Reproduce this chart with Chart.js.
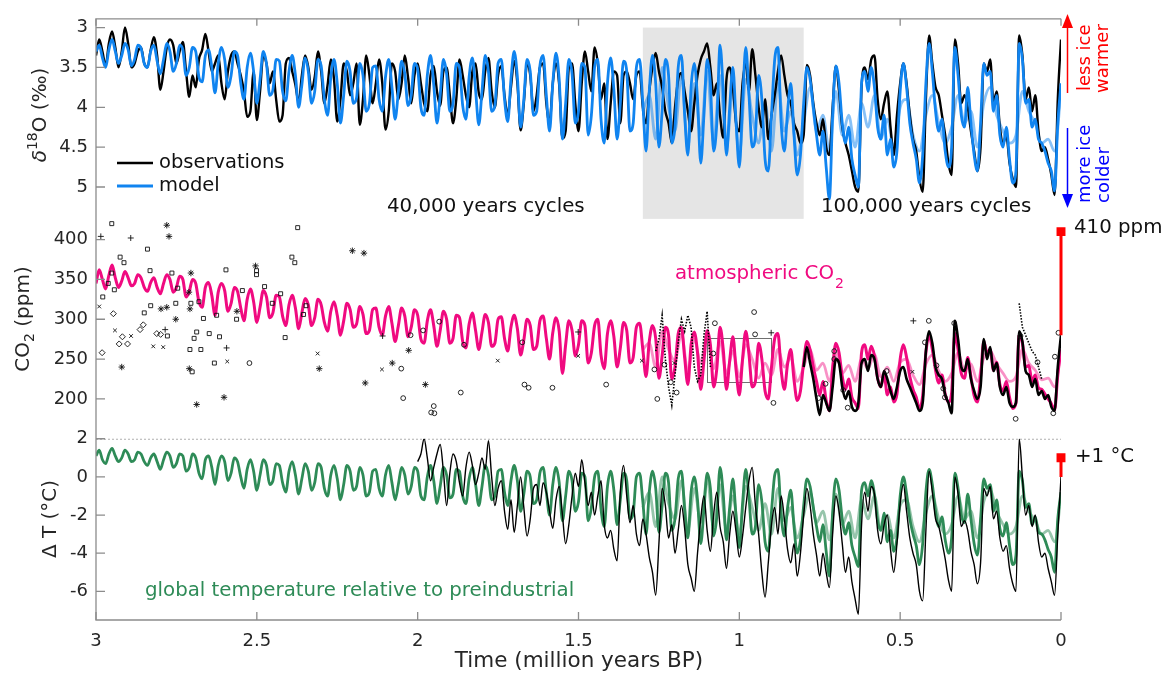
<!DOCTYPE html>
<html>
<head>
<meta charset="utf-8">
<script src="https://cdn.jsdelivr.net/npm/chart.js@4.4.1/dist/chart.umd.min.js"></script>
<style>
html,body{margin:0;padding:0;background:#fff;}
#wrap{width:1164px;height:673px;}
</style>
</head>
<body>
<div id="wrap"><canvas id="c" width="1164" height="673"></canvas></div>
<script>
// ---------------- DATA ----------------
const ageMa = [
3,2.99,2.98,2.97,2.96,2.95,2.94,2.93,2.92,2.91,
2.9,2.89,2.88,2.87,2.86,2.85,2.84,2.83,2.82,2.81,
2.8,2.79,2.78,2.77,2.76,2.75,2.74,2.73,2.72,2.71,
2.7,2.69,2.68,2.67,2.66,2.65,2.64,2.63,2.62,2.61,
2.6,2.59,2.58,2.57,2.56,2.55,2.54,2.53,2.52,2.51,
2.5,2.49,2.48,2.47,2.46,2.45,2.44,2.43,2.42,2.41,
2.4,2.39,2.38,2.37,2.36,2.35,2.34,2.33,2.32,2.31,
2.3,2.29,2.28,2.27,2.26,2.25,2.24,2.23,2.22,2.21,
2.2,2.19,2.18,2.17,2.16,2.15,2.14,2.13,2.12,2.11,
2.1,2.09,2.08,2.07,2.06,2.05,2.04,2.03,2.02,2.01,
2,1.99,1.98,1.97,1.96,1.95,1.94,1.93,1.92,1.91,
1.9,1.89,1.88,1.87,1.86,1.85,1.84,1.83,1.82,1.81,
1.8,1.79,1.78,1.77,1.76,1.75,1.74,1.73,1.72,1.71,
1.7,1.69,1.68,1.67,1.66,1.65,1.64,1.63,1.62,1.61,
1.6,1.59,1.58,1.57,1.56,1.55,1.54,1.53,1.52,1.51,
1.5,1.49,1.48,1.47,1.46,1.45,1.44,1.43,1.42,1.41,
1.4,1.39,1.38,1.37,1.36,1.35,1.34,1.33,1.32,1.31,
1.3,1.29,1.28,1.27,1.26,1.25,1.24,1.23,1.22,1.21,
1.2,1.19,1.18,1.17,1.16,1.15,1.14,1.13,1.12,1.11,
1.1,1.09,1.08,1.07,1.06,1.05,1.04,1.03,1.02,1.01,
1,0.99,0.98,0.97,0.96,0.95,0.94,0.93,0.92,0.91,
0.9,0.89,0.88,0.87,0.86,0.85,0.84,0.83,0.82,0.81,
0.8,0.79,0.78,0.77,0.76,0.75,0.74,0.73,0.72,0.71,
0.7,0.69,0.68,0.67,0.66,0.65,0.64,0.63,0.62,0.61,
0.6,0.59,0.58,0.57,0.56,0.55,0.54,0.53,0.52,0.51,
0.5,0.49,0.48,0.47,0.46,0.45,0.44,0.43,0.42,0.41,
0.4,0.39,0.38,0.37,0.36,0.35,0.34,0.33,0.32,0.31,
0.3,0.29,0.28,0.27,0.26,0.25,0.24,0.23,0.22,0.21,
0.2,0.19,0.18,0.17,0.16,0.15,0.14,0.13,0.12,0.11,
0.1,0.09,0.08,0.07,0.06,0.05,0.04,0.03,0.02,0.01,
0];

// delta18O (permil), model main member, 3.00 -> 0.00 Ma
const d18oModel = [
3.30,3.22,3.38,3.50,3.28,3.15,3.30,3.45,3.35,3.20,
3.28,3.48,3.40,3.22,3.26,3.45,3.50,3.30,3.22,3.42,
3.58,3.40,3.20,3.30,3.55,3.45,3.22,3.28,3.60,3.50,
3.25,3.30,3.62,3.68,3.35,3.28,3.50,3.82,3.45,3.25,
3.40,3.75,3.60,3.30,3.35,3.70,3.90,3.50,3.32,3.55,
3.95,3.65,3.30,3.45,3.85,3.78,3.40,3.42,3.80,3.92,
3.55,3.35,3.60,4.00,3.72,3.38,3.55,3.95,3.80,3.40,
3.48,3.90,4.10,3.62,3.40,3.70,4.20,3.85,3.42,3.55,
3.95,3.88,3.45,3.60,4.05,3.95,3.50,3.48,3.90,4.05,
3.62,3.40,3.75,4.15,3.80,3.42,3.58,3.98,3.85,3.45,
3.52,4.00,4.10,3.60,3.35,3.72,4.20,3.85,3.40,3.58,
4.05,3.95,3.45,3.50,3.98,4.15,3.62,3.38,3.78,4.22,
3.80,3.35,3.55,4.05,3.98,3.45,3.40,3.90,4.18,3.65,
3.30,3.62,4.25,3.90,3.40,3.55,4.10,4.05,3.48,3.35,
3.85,4.30,3.70,3.32,3.65,4.40,3.95,3.40,3.58,4.20,
4.05,3.45,3.50,4.35,4.10,3.50,3.40,4.15,4.45,3.70,
3.38,3.78,4.40,3.95,3.42,3.55,4.30,4.20,3.50,3.40,
3.95,4.55,3.80,3.35,3.70,4.50,4.05,3.40,3.60,4.45,
4.25,3.50,3.35,4.10,4.60,3.75,3.45,3.90,4.70,4.10,
3.40,3.70,4.55,4.20,3.22,3.80,4.60,4.00,3.50,4.20,
4.75,3.95,3.25,3.85,4.50,4.35,3.60,3.90,4.65,4.80,
4.10,3.40,3.25,4.20,4.55,4.05,3.70,4.35,4.85,4.60,
3.95,3.50,3.65,4.00,4.35,4.60,4.30,4.75,5.15,4.10,
3.48,3.70,4.20,4.45,4.25,4.65,4.85,5.00,3.70,3.55,
3.80,3.50,3.75,4.25,4.40,4.10,4.60,4.40,4.75,4.55,
3.80,3.45,3.75,4.20,4.45,4.65,4.95,4.60,3.70,3.20,
3.55,4.05,4.30,4.15,4.55,4.75,4.50,3.25,3.60,4.10,
4.25,3.75,4.20,4.60,4.80,4.20,3.45,3.60,3.55,4.05,
3.85,4.35,4.50,4.25,4.65,4.95,4.80,3.20,3.40,3.95,
3.90,4.25,4.15,4.40,4.45,4.55,4.70,4.80,5.05,4.20,3.70];

// delta18O observations (benthic stack), 3.00 -> 0.00 Ma
const d18oObs = [
3.35,3.15,3.30,3.48,3.20,3.05,3.25,3.50,3.30,3.00,
3.20,3.50,3.45,3.30,3.25,3.45,3.50,3.28,3.12,3.35,
3.78,3.55,3.25,3.15,3.22,3.45,3.30,3.18,3.55,3.87,
3.60,3.75,3.40,3.28,3.08,3.30,3.55,3.45,3.35,3.70,
3.90,3.55,3.35,3.30,3.45,3.60,3.80,4.12,4.05,3.55,
4.16,3.80,3.35,3.45,3.70,3.55,3.90,4.18,4.10,3.45,
3.38,3.55,3.72,3.94,3.60,3.35,3.50,3.78,3.62,3.30,
3.55,3.95,3.72,3.40,3.65,4.18,3.90,3.45,3.55,3.85,
3.70,3.45,4.22,3.90,3.35,3.60,3.95,3.70,3.40,3.70,
4.28,4.05,3.45,3.55,3.90,3.70,3.35,3.62,3.95,3.60,
3.45,3.70,3.95,4.05,3.60,3.48,3.80,3.98,3.55,3.50,
3.85,4.20,3.90,3.40,3.60,3.85,4.00,3.55,3.45,3.82,
3.90,3.55,3.38,3.80,4.00,3.60,3.48,3.85,4.10,3.75,
3.42,3.70,4.29,3.95,3.45,3.60,4.05,3.85,3.50,3.45,
3.95,4.20,3.70,3.45,3.72,4.39,4.30,3.50,3.45,3.95,
4.30,3.70,3.30,3.55,3.80,3.25,3.45,3.90,3.70,4.40,
3.95,3.55,3.60,4.20,3.60,3.55,3.70,3.90,3.60,3.55,
4.00,4.20,3.80,3.50,3.32,3.55,3.75,4.05,4.20,4.45,
4.00,3.65,3.57,3.80,4.05,4.30,3.95,3.60,3.40,3.30,
3.20,3.50,3.85,3.70,4.10,4.38,3.65,3.50,3.75,4.20,
4.30,3.70,3.45,3.80,3.27,3.60,4.00,4.25,3.90,4.40,
4.10,3.85,3.55,3.35,3.60,3.85,3.95,4.20,4.30,4.45,
4.35,3.47,3.60,3.95,4.20,4.35,4.15,4.50,4.60,4.00,
3.48,3.80,4.25,4.45,4.60,4.80,5.00,5.06,3.75,3.50,
3.65,3.40,3.35,3.90,4.15,3.95,3.80,4.25,4.60,4.10,
3.70,3.45,3.70,4.10,4.40,4.55,4.90,5.06,3.90,3.10,
3.45,3.75,3.85,4.10,4.35,4.70,4.85,3.15,3.45,3.95,
3.85,4.00,4.30,4.55,4.80,4.50,3.45,3.55,3.40,3.95,
3.80,4.25,4.45,4.35,4.70,4.90,5.00,3.10,3.35,3.90,
3.75,4.05,3.85,4.30,4.55,4.50,4.65,4.85,5.10,3.90,3.15];

// other ensemble members (lighter lines), 1.30 -> 0.00 Ma
const ageAlt = [1.3,1.28,1.26,1.24,1.22,1.2,1.18,1.16,1.14,1.12,1.1,1.08,1.06,1.04,1.02,1,0.98,0.96,0.94,0.92,
0.9,0.88,0.86,0.84,0.82,0.8,0.78,0.76,0.74,0.72,0.7,0.68,0.66,0.64,0.62,0.6,0.58,0.56,0.54,0.52,
0.5,0.48,0.46,0.44,0.42,0.4,0.38,0.36,0.34,0.32,0.3,0.28,0.26,0.24,0.22,0.2,0.18,0.16,0.14,0.12,
0.1,0.08,0.06,0.04,0.02,0];
const d18oAlt = [4.05,3.85,4.40,3.50,4.00,4.30,3.60,4.50,3.70,4.35,3.55,4.45,3.60,4.50,3.80,4.60,3.65,4.10,4.45,3.95,
4.55,3.70,4.30,4.05,4.60,4.20,3.75,4.30,4.10,4.55,3.80,4.35,4.10,4.50,3.95,4.25,3.85,4.40,4.15,4.50,
4.00,3.90,4.35,4.55,4.10,3.85,4.20,4.45,4.25,3.85,4.20,4.05,4.50,3.95,3.75,4.10,4.30,4.45,4.35,3.80,
4.05,4.20,4.45,4.40,4.55,3.80];
const co2Alt = [262,270,240,285,262,248,282,235,275,245,280,238,272,232,260,228,268,250,226,245,
230,262,240,252,222,240,262,236,245,222,258,232,242,222,250,238,256,228,240,222,
246,250,230,218,244,255,235,222,232,258,236,244,222,252,260,244,232,222,228,262,
245,236,224,226,215,262];
const tempAlt = [-1.6,-0.8,-2.6,0.0,-1.4,-2.2,-0.2,-2.8,-0.6,-2.4,-0.1,-2.6,-0.4,-2.8,-1.0,-3.0,-0.5,-1.6,-2.8,-1.4,
-3.0,-0.6,-2.3,-1.6,-3.2,-2.0,-0.8,-2.4,-1.8,-3.3,-0.9,-2.5,-1.8,-3.2,-1.2,-2.2,-1.0,-2.8,-2.0,-3.2,
-1.5,-1.2,-2.6,-3.4,-1.9,-1.0,-2.2,-3.0,-2.5,-1.0,-2.2,-1.8,-3.2,-1.3,-0.7,-1.8,-2.5,-3.0,-2.6,-1.0,
-1.8,-2.3,-3.0,-2.8,-3.4,-1.0];

// CO2 (ppm), model main member, 3.00 -> 0.00 Ma
const co2Model = [
345,362,350,338,355,368,352,340,348,360,
352,342,345,356,352,340,335,346,352,340,
332,345,356,350,334,340,354,350,328,335,
350,345,322,315,340,346,330,305,334,345,
336,310,320,340,335,314,298,325,338,322,
296,315,336,328,302,308,330,328,304,292,
318,330,314,288,308,326,318,292,302,325,
318,296,285,310,322,305,280,298,320,312,
290,294,316,306,282,286,312,314,290,280,
304,316,295,272,292,314,304,278,290,312,
305,275,270,298,312,292,266,286,310,300,
270,276,305,302,272,264,294,308,286,262,
284,306,296,266,270,300,303,276,260,290,
305,288,255,274,300,292,262,266,298,304,
276,250,283,302,285,232,268,298,286,254,
268,298,292,245,258,292,300,255,238,282,
298,278,240,264,296,286,245,252,290,295,
262,228,272,292,276,226,254,290,280,225,
240,282,290,252,218,268,284,258,212,248,
286,268,215,238,290,262,212,248,278,236,
205,250,285,256,215,222,270,250,210,200,
240,276,282,236,212,244,262,224,198,210,
246,272,262,240,222,205,222,198,185,238,
270,258,228,212,225,202,195,188,258,268,
250,266,254,226,215,232,205,215,196,206,
250,268,252,228,212,202,188,204,258,280,
262,236,220,230,206,196,208,282,262,232,
226,252,228,204,196,228,272,258,262,236,
246,218,210,222,202,188,195,280,270,240,
242,222,230,214,212,206,200,194,186,230,262];

// CO2 ice core observations, 0.80 -> 0.00 Ma
const co2Ice = [
240,265,245,225,200,180,205,195,185,215,
250,245,215,200,210,190,185,195,245,250,
235,255,250,225,215,235,225,210,200,215,
235,240,225,215,205,195,185,195,260,285,
270,240,230,225,205,195,182,298,275,240,
235,250,225,210,200,215,275,250,265,235,
245,215,205,215,195,190,195,285,272,235,
230,215,225,205,210,200,205,190,185,240,280];

// CO2 boron-based reconstruction (dotted)
const co2DotAge = [1.26,1.25,1.24,1.23,1.22,1.21,1.2,1.19,1.18,1.17,1.16,1.15,1.14,1.13,1.12,1.11,1.1,1.09,1.0,
0.13,0.12,0.11,0.1,0.09,0.08,0.07,0.06];
const co2Dot = [260,275,305,250,215,192,230,270,300,285,305,290,240,222,230,280,310,240,null,
320,290,280,270,260,255,240,225];

// older CO2 proxy points [age Ma, ppm]
const proxySquare = [[2.951,420],[2.840,388],[2.925,378],[2.913,371],[2.832,361],[2.764,358],[2.951,358],[2.962,345],[2.943,337],[2.979,328],[2.850,308],[2.830,317],[2.778,279],[2.746,339],[2.752,320],[2.705,320],[2.680,322],[2.666,301],[2.687,284],[2.695,276],[2.708,262],[2.674,262],[2.701,234],[2.648,282],[2.616,278],[2.625,305],[2.596,362],[2.632,245],[2.563,300],[2.545,336],[2.501,361],[2.501,356],[2.476,341],[2.452,320],[2.426,332],[2.412,277],[2.391,378],[2.382,371],[2.373,415],[2.355,306],[2.347,317]];
const proxyCircle = [[2.523,245],[2.051,238],[2.045,201],[2.022,280],[1.983,286],[1.950,191],[1.958,183],[1.948,182],[1.933,297],[1.866,208],[1.856,268],[1.668,218],[1.655,214],[1.675,271],[1.581,214],[1.414,218],[1.255,200],[1.264,237],[1.233,243],[1.213,221],[1.195,208],[1.076,295],[0.954,309],[0.951,281],[1.081,257],[0.894,195],[0.705,260],[0.705,250],[0.732,219],[0.754,201],[0.677,211],[0.663,189],[0.542,235],[0.411,298],[0.423,271],[0.387,242],[0.366,213],[0.361,202],[0.332,295],[0.141,175],[0.126,279],[0.073,246],[0.024,182],[0.019,253],[0.008,283]];
const proxyStar = [[2.780,418],[2.773,404],[2.705,358],[2.798,313],[2.780,315],[2.752,300],[2.920,240],[2.711,334],[2.708,313],[2.710,238],[2.687,193],[2.602,202],[2.562,310],[2.504,367],[2.306,238],[2.203,386],[2.167,383],[2.163,220],[2.079,245],[2.028,261],[1.976,218]];
const proxyPlus = [[2.985,404],[2.892,402],[2.785,287],[2.594,264],[2.109,279],[1.501,284],[0.901,283],[0.459,298]];
const proxyX = [[2.990,316],[2.941,286],[2.891,279],[2.822,266],[2.791,265],[2.592,247],[2.311,257],[2.111,237],[1.751,248],[1.501,254],[1.303,248],[1.202,245],[0.462,234]];
const proxyDiamond = [[2.946,307],[2.918,278],[2.928,269],[2.902,269],[2.863,287],[2.853,293],[2.811,282],[2.799,281],[2.981,258]];

// global temperature anomaly (deg C), model, 3.00 -> 0.00 Ma
const tempModel = [
1.1,1.4,0.9,0.7,1.2,1.5,1.1,0.8,1.0,1.4,
1.2,0.8,0.9,1.3,1.2,0.8,0.6,1.0,1.2,0.8,
0.4,0.9,1.3,1.1,0.5,0.7,1.2,1.1,0.3,0.5,
1.2,1.0,0.2,-0.1,0.9,1.1,0.5,-0.4,0.6,1.1,
0.8,-0.2,0.2,1.0,0.8,0.0,-0.6,0.4,0.9,0.3,
-0.7,0.1,0.9,0.6,-0.4,-0.2,0.7,0.6,-0.3,-0.8,
0.3,0.8,0.1,-0.9,-0.1,0.7,0.3,-0.7,-0.3,0.7,
0.5,-0.6,-1.0,0.1,0.6,-0.1,-1.2,-0.4,0.6,0.3,
-0.7,-0.5,0.5,0.1,-1.0,-0.8,0.3,0.4,-0.6,-1.0,
0.1,0.6,-0.3,-1.2,-0.4,0.5,0.1,-0.9,-0.5,0.5,
0.3,-1.0,-1.2,0.0,0.6,-0.2,-1.4,-0.5,0.5,0.1,
-1.1,-0.9,0.4,0.3,-1.0,-1.4,-0.1,0.5,-0.4,-1.5,
-0.5,0.6,0.1,-1.2,-1.0,0.3,0.4,-0.8,-1.5,-0.2,
0.6,-0.2,-1.8,-0.9,0.3,0.0,-1.4,-1.2,0.2,0.5,
-0.8,-2.0,-0.4,0.5,-0.3,-2.3,-1.0,0.3,-0.2,-1.8,
-1.3,0.2,0.0,-2.3,-1.6,0.0,0.3,-1.7,-2.6,-0.5,
0.3,-0.7,-2.5,-1.2,0.2,-0.2,-2.2,-1.9,0.0,0.2,
-1.3,-3.0,-0.8,0.3,-0.6,-2.9,-1.5,0.2,-0.3,-2.8,
-2.2,-0.1,0.3,-1.7,-3.2,-0.8,0.0,-1.2,-3.5,-1.7,
0.2,-0.6,-3.1,-2.1,0.5,-0.9,-3.3,-1.6,-0.1,-2.1,
-3.7,-1.4,0.4,-1.1,-3.0,-2.6,-0.4,-1.3,-3.4,-3.9,
-1.8,0.1,0.4,-2.0,-3.1,-1.6,-0.7,-2.6,-4.0,-3.3,
-1.5,-0.1,-0.5,-1.6,-2.6,-3.4,-2.5,-3.9,-5.2,-1.9,
-0.1,-0.7,-2.2,-3.0,-2.4,-3.6,-4.2,-4.7,-0.7,-0.3,
-1.0,-0.2,-0.9,-2.3,-2.8,-1.9,-3.4,-2.8,-3.9,-3.2,
-1.0,0.0,-0.9,-2.2,-3.0,-3.6,-4.6,-3.5,-0.8,0.4,
-0.4,-1.8,-2.6,-2.1,-3.3,-4.0,-3.2,0.2,-0.6,-2.0,
-2.4,-0.9,-2.2,-3.5,-4.1,-2.2,-0.1,-0.6,-0.4,-1.8,
-1.2,-2.7,-3.1,-2.4,-3.6,-4.6,-4.1,0.3,-0.2,-1.6,
-1.4,-2.5,-2.1,-2.9,-3.0,-3.3,-3.8,-4.2,-5.0,-2.2,-0.8];

// global temperature reconstruction, 2.00 -> 0.00 Ma
const tempObs = [
0.8,1.2,2.0,1.0,-0.2,0.5,1.2,1.7,0.3,-1.5,
0.2,1.2,0.8,-0.3,-1.0,0.5,1.3,0.6,-0.4,0.2,
1.0,0.4,1.9,0.0,-1.5,-0.6,-0.2,-1.8,-2.75,-1.2,
-2.9,-1.5,0.0,-1.6,-3.1,-2.2,-0.6,-0.4,-1.5,-0.3,
-0.8,-1.8,-2.7,-1.2,-0.5,-2.0,-3.5,-2.5,-1.0,0.2,
-0.5,0.9,-0.3,-1.5,-0.8,-2.0,-1.0,-0.2,-2.5,-3.2,
-2.8,-3.8,-4.4,-0.8,0.6,-1.0,-2.4,-1.5,-3.0,-3.6,
-2.2,-3.0,-4.2,-5.0,-6.2,-3.5,-0.6,-1.5,-3.2,-2.5,
-4.0,-2.8,-1.5,-2.7,-4.6,-5.3,-6.0,-4.0,-2.2,-1.0,
-2.8,-3.9,-2.0,-0.8,-2.6,-3.4,-4.8,-3.0,-1.8,-2.9,
-4.2,-3.1,-1.6,-0.2,0.5,-1.5,-3.0,-5.0,-6.3,-4.5,
-2.5,-1.6,-3.0,-1.0,-2.2,-3.8,-4.5,-3.5,-5.2,-4.0,
-2.0,-0.6,-1.5,-3.0,-4.1,-5.2,-4.0,-5.0,-5.8,-3.0,
-1.0,-1.8,-3.5,-5.0,-4.2,-5.5,-6.4,-7.2,-2.5,-0.8,
-1.8,-0.5,-0.9,-2.8,-3.5,-2.5,-2.0,-3.8,-5.0,-3.5,
-1.4,-0.4,-1.8,-3.2,-4.0,-4.6,-6.0,-6.5,-2.8,0.3,
-0.8,-2.2,-2.6,-3.4,-4.3,-5.4,-6.0,0.0,-0.9,-2.6,
-2.3,-2.8,-3.9,-4.6,-5.6,-4.5,-0.6,-1.0,-0.5,-2.2,
-1.8,-3.2,-3.9,-3.6,-4.8,-5.6,-6.0,2.0,0.0,-2.0,
-1.5,-2.6,-2.0,-3.4,-4.2,-4.0,-4.8,-5.5,-6.2,-3.0,0.0];

// present-day markers
const co2Now = [280, 410];
const tempNow = [0, 1];
const nowAge = [0, 0];

// axis ticks
const timeTicks = [3, 2.5, 2, 1.5, 1, 0.5, 0];
const d18oTicks = [3, 3.5, 4, 4.5, 5];
const co2Ticks = [200, 250, 300, 350, 400];
const tempTicks = [-6, -4, -2, 0, 2];

// annotations
const shadeAge = [1.3, 0.8];
const shadeTop = 3.0;
const boxAge = [1.1, 0.9];
const boxCo2 = [221, 276];

// ---------------- CHART ----------------
const FONT = '"DejaVu Sans", sans-serif';
Chart.defaults.font.family = FONT;
const BLUE = 'rgb(16,132,240)', BLUE_L = 'rgba(16,132,240,0.5)';
const PINK = 'rgb(240,10,128)', PINK_L = 'rgba(240,10,128,0.45)';
const GREEN = 'rgb(46,139,87)', GREEN_L = 'rgba(46,139,87,0.5)';
const AX = '#8c8c8c', TXT = '#262626';

const pts = (ages, vals) => vals.map((v, i) => ({x: ages[i], y: v}));
const pairs = arr => arr.map(p => ({x: p[0], y: p[1]}));

function lineDS(label, ages, vals, axis, color, width, order, extra) {
  return Object.assign({
    label, data: pts(ages, vals), yAxisID: axis, borderColor: color, borderWidth: width,
    pointRadius: 0, fill: false, order, cubicInterpolationMode: 'monotone', spanGaps: false
  }, extra || {});
}
function scatterDS(arr, style, r, order) {
  return {data: pairs(arr), yAxisID: 'yC', showLine: false, pointStyle: style, pointRadius: r,
    pointBorderWidth: 0.9, borderColor: '#111', pointBorderColor: '#111', backgroundColor: 'rgba(0,0,0,0)', order};
}

const datasets = [
  lineDS('d18o alt', ageAlt, d18oAlt, 'yD', BLUE_L, 2.8, 4),
  lineDS('d18o obs', ageMa, d18oObs, 'yD', '#000', 2.4, 3),
  lineDS('d18o model', ageMa, d18oModel, 'yD', BLUE, 2.8, 2),

  lineDS('co2 alt', ageAlt, co2Alt, 'yC', PINK_L, 2.8, 8),
  lineDS('co2 model', ageMa, co2Model, 'yC', PINK, 3, 7),
  lineDS('co2 ice', ageMa.slice(220), co2Ice, 'yC', '#000', 2.6, 6),
  lineDS('co2 boron', co2DotAge, co2Dot, 'yC', '#000', 1.6, 5, {borderDash: [1.5, 1.5], cubicInterpolationMode: 'default', tension: 0}),
  scatterDS(proxySquare, 'rect', 2.8, 1),
  scatterDS(proxyCircle, 'circle', 2.4, 1),
  scatterDS(proxyStar, 'star', 3.2, 1),
  scatterDS(proxyPlus, 'cross', 3.0, 1),
  scatterDS(proxyX, 'crossRot', 2.6, 1),
  scatterDS(proxyDiamond, 'rectRot', 3.0, 1),

  lineDS('temp alt', ageAlt, tempAlt, 'yT', GREEN_L, 2.8, 12),
  lineDS('temp model', ageMa, tempModel, 'yT', GREEN, 2.8, 11),
  lineDS('temp obs', ageMa.slice(100), tempObs, 'yT', '#000', 1.4, 10),

  {data: pts(nowAge, co2Now), yAxisID: 'yC', borderColor: '#ff0000', borderWidth: 3, pointStyle: 'rect',
   pointRadius: [0, 4.2], pointBackgroundColor: '#ff0000', pointBorderColor: '#ff0000', order: 0, clip: 10},
  {data: pts(nowAge, tempNow), yAxisID: 'yT', borderColor: '#ff0000', borderWidth: 3, pointStyle: 'rect',
   pointRadius: [0, 4.2], pointBackgroundColor: '#ff0000', pointBorderColor: '#ff0000', order: 0, clip: 10}
];

function yScale(ticksArr, min, max, sw, w, rev) {
  return {
    type: 'linear', position: 'left', stack: 'panels', stackWeight: sw, weight: w,
    min, max, reverse: !!rev,
    grid: {display: false, drawTicks: false},
    border: {display: false},
    afterBuildTicks: s => { s.ticks = ticksArr.map(v => ({value: v})); },
    afterFit: s => { s.width = 90; },
    ticks: {autoSkip: false, padding: 8, color: TXT, font: {size: 18, family: FONT},
            callback: v => String(v)}
  };
}

function rotParts(ctx, parts, cx, cy) {
  let total = 0;
  parts.forEach(p => { ctx.font = p.font; p.w = ctx.measureText(p.t).width; total += p.w; });
  ctx.save();
  ctx.translate(cx, cy);
  ctx.rotate(-Math.PI / 2);
  ctx.textBaseline = 'middle';
  ctx.textAlign = 'left';
  let x = -total / 2;
  parts.forEach(p => { ctx.font = p.font; ctx.fillText(p.t, x, p.dy || 0); x += p.w; });
  ctx.restore();
}

const decor = {
  id: 'decor',
  beforeDatasetsDraw(chart) {
    const {ctx, chartArea: ca, scales: s} = chart;
    ctx.save();
    const xa = s.x.getPixelForValue(shadeAge[0]), xb = s.x.getPixelForValue(shadeAge[1]);
    const ya = s.yD.getPixelForValue(shadeTop);
    ctx.fillStyle = '#e5e5e5';
    ctx.fillRect(xa, ya, xb - xa, s.yD.bottom - ya);
    const yt = s.yT.getPixelForValue(2);
    ctx.strokeStyle = '#b0b0b0'; ctx.lineWidth = 1; ctx.setLineDash([2, 2]);
    ctx.beginPath(); ctx.moveTo(ca.left, yt + 0.5); ctx.lineTo(ca.right, yt + 0.5); ctx.stroke();
    ctx.setLineDash([]);
    const bx1 = s.x.getPixelForValue(boxAge[0]), bx2 = s.x.getPixelForValue(boxAge[1]);
    const by1 = s.yC.getPixelForValue(boxCo2[1]), by2 = s.yC.getPixelForValue(boxCo2[0]);
    ctx.strokeStyle = '#707070'; ctx.lineWidth = 1;
    ctx.strokeRect(Math.round(bx1) + 0.5, Math.round(by1) + 0.5, Math.round(bx2 - bx1), Math.round(by2 - by1));
    ctx.restore();
  },
  afterDraw(chart) {
    const {ctx, chartArea: ca, scales: s} = chart;
    ctx.save();
    ctx.strokeStyle = AX; ctx.lineWidth = 1.3;
    ctx.beginPath();
    ctx.moveTo(ca.right, ca.top); ctx.lineTo(ca.left, ca.top); ctx.lineTo(ca.left, ca.bottom); ctx.lineTo(ca.right, ca.bottom);
    ctx.stroke();
    ctx.beginPath();
    [[s.yD, d18oTicks], [s.yC, co2Ticks], [s.yT, tempTicks]].forEach(([sc, tk]) => {
      tk.forEach(v => { const p = sc.getPixelForValue(v); ctx.moveTo(ca.left, p); ctx.lineTo(ca.left + 9, p); });
    });
    timeTicks.forEach(v => {
      const p = s.x.getPixelForValue(v);
      ctx.moveTo(p, ca.top); ctx.lineTo(p, ca.top + 7);
      ctx.moveTo(p, ca.bottom); ctx.lineTo(p, ca.bottom - 8);
    });
    ctx.stroke();

    ctx.fillStyle = TXT;
    const F20 = '20px ' + FONT, F14 = '14px ' + FONT;
    rotParts(ctx, [{t: 'δ', font: 'italic 20px ' + FONT}, {t: '18', font: F14, dy: -8}, {t: 'O (‰)', font: F20}], 41, 115);
    rotParts(ctx, [{t: 'CO', font: F20}, {t: '2', font: F14, dy: 6}, {t: ' (ppm)', font: F20}], 24, 319);
    rotParts(ctx, [{t: 'Δ T (°C)', font: F20}], 51, 519);
    ctx.font = '21.5px ' + FONT; ctx.textAlign = 'center'; ctx.textBaseline = 'middle';
    ctx.fillText('Time (million years BP)', 579, 661);

    ctx.lineWidth = 2.5; ctx.strokeStyle = '#000';
    ctx.beginPath(); ctx.moveTo(117, 163); ctx.lineTo(153, 163); ctx.stroke();
    ctx.strokeStyle = BLUE; ctx.lineWidth = 3;
    ctx.beginPath(); ctx.moveTo(117, 186); ctx.lineTo(153, 186); ctx.stroke();
    ctx.font = '19.5px ' + FONT; ctx.textAlign = 'left'; ctx.textBaseline = 'middle'; ctx.fillStyle = '#111';
    ctx.fillText('observations', 159, 163);
    ctx.fillText('model', 159, 186);

    ctx.font = '19.8px ' + FONT; ctx.textBaseline = 'alphabetic';
    ctx.fillText('40,000 years cycles', 387, 212);
    ctx.fillText('100,000 years cycles', 821, 212);
    ctx.fillText('410 ppm', 1074, 233);
    ctx.fillText('+1 °C', 1075, 462);
    ctx.fillStyle = PINK;
    ctx.fillText('atmospheric CO', 675, 279);
    const wco = ctx.measureText('atmospheric CO').width;
    ctx.font = '14px ' + FONT; ctx.fillText('2', 675 + wco + 1, 288);
    ctx.fillStyle = GREEN; ctx.font = '19.8px ' + FONT;
    ctx.fillText('global temperature relative to preindustrial', 145, 596);

    const ax = 1067.5;
    ctx.strokeStyle = '#ff0000'; ctx.fillStyle = '#ff0000'; ctx.lineWidth = 1.5;
    ctx.beginPath(); ctx.moveTo(ax, 93); ctx.lineTo(ax, 26); ctx.stroke();
    ctx.beginPath(); ctx.moveTo(ax, 14); ctx.lineTo(ax - 5.5, 28); ctx.lineTo(ax + 5.5, 28); ctx.closePath(); ctx.fill();
    ctx.strokeStyle = '#0000ff'; ctx.fillStyle = '#0000ff';
    ctx.beginPath(); ctx.moveTo(ax, 128); ctx.lineTo(ax, 196); ctx.stroke();
    ctx.beginPath(); ctx.moveTo(ax, 208); ctx.lineTo(ax - 5.5, 194); ctx.lineTo(ax + 5.5, 194); ctx.closePath(); ctx.fill();

    const vtext = (t, x, y, col) => {
      ctx.save(); ctx.translate(x, y); ctx.rotate(-Math.PI / 2);
      ctx.fillStyle = col; ctx.font = '18px ' + FONT; ctx.textAlign = 'left'; ctx.textBaseline = 'alphabetic';
      ctx.fillText(t, 0, 0); ctx.restore();
    };
    vtext('less ice', 1090, 91, '#ff0000');
    vtext('warmer', 1108, 93, '#ff0000');
    vtext('more ice', 1090, 203, '#0000ff');
    vtext('colder', 1109, 203, '#0000ff');
    ctx.restore();
  }
};

new Chart(document.getElementById('c'), {
  type: 'line',
  data: {datasets},
  options: {
    responsive: false, animation: false, devicePixelRatio: 1, events: [],
    layout: {padding: {left: 6, right: 103, top: 13, bottom: 0}},
    plugins: {legend: {display: false}, tooltip: {enabled: false}},
    scales: {
      x: {
        type: 'linear', position: 'bottom', min: 0, max: 3, reverse: true,
        grid: {display: false, drawTicks: false}, border: {display: false},
        afterBuildTicks: s => { s.ticks = timeTicks.map(v => ({value: v})); },
        afterFit: s => { s.height = 53; },
        ticks: {autoSkip: false, maxRotation: 0, padding: 11, color: TXT, font: {size: 18, family: FONT},
                callback: v => String(v)}
      },
      yT: yScale(tempTicks, -7.5, 2, 183, 1, false),
      yC: yScale(co2Ticks, 150, 426, 222, 2, false),
      yD: yScale(d18oTicks, 2.89, 5.4, 202, 3, true)
    }
  },
  plugins: [decor]
});
</script>
</body>
</html>
